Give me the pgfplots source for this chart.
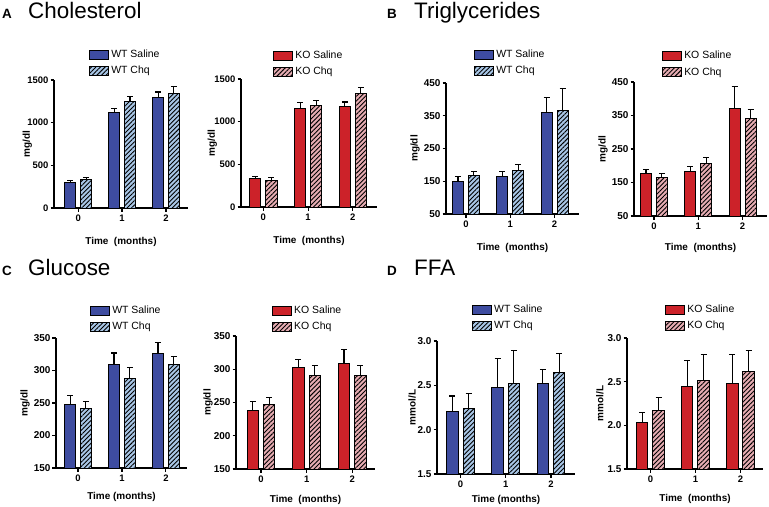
\documentclass[border=0pt]{standalone}
\usepackage{pgfplots}
\pgfplotsset{compat=1.18}
\usepackage{pgfplotstable}
\usepackage{fontspec}
\setmainfont{Liberation Sans}
\usetikzlibrary{patterns.meta}

\definecolor{wtS}{RGB}{62,76,160}
\definecolor{wtC}{RGB}{168,198,230}
\definecolor{koS}{RGB}{204,34,41}
\definecolor{koC}{RGB}{230,172,178}

\pgfplotstableread{
x s se c ce
0 300 20 335 25
1 1120 45 1250 55
2 1295 65 1345 75
}\cholWT
\pgfplotstableread{
x s se c ce
0 330 25 315 30
1 1150 70 1190 55
2 1175 55 1325 75
}\cholKO
\pgfplotstableread{
x s se c ce
0 150 15 167 13
1 165 15 183 17
2 360 47 367 67
}\trigWT
\pgfplotstableread{
x s se c ce
0 177 13 165 11
1 183 14 207 17
2 372 64 340 29
}\trigKO
\pgfplotstableread{
x s se c ce
0 248 13 242 11
1 310 17 288 16
2 326 17 309 13
}\gluWT
\pgfplotstableread{
x s se c ce
0 238 13 247 10
1 302 12 290 16
2 309 21 290 16
}\gluKO
\pgfplotstableread{
x s se c ce
0 2.20 0.18 2.24 0.165
1 2.48 0.32 2.52 0.37
2 2.52 0.16 2.65 0.21
}\ffaWT
\pgfplotstableread{
x s se c ce
0 2.03 0.12 2.17 0.15
1 2.44 0.30 2.51 0.30
2 2.48 0.33 2.62 0.24
}\ffaKO

\pgfplotsset{
 panel/.style={
  scale only axis,
  anchor=south west,
  axis x line*=bottom, axis y line*=left,
  axis line style={-,line width=1.3bp,black},
  tick align=outside,
  major tick length=3.5bp,
  tick style={line width=1.2bp,black},
  xtick={0,1,2},
  x tick label style={font=\fontsize{9.5}{10}\selectfont\bfseries},
  y tick label style={font=\fontsize{8.5}{10}\selectfont\bfseries, xshift=1.5bp},
  /pgf/number format/assume math mode=true,
  /pgf/number format/1000 sep={},
  ylabel style={font=\fontsize{10}{11}\selectfont\bfseries},
  xlabel style={font=\fontsize{10}{11}\selectfont\bfseries},
  legend cell align=left,
  legend style={draw=none, fill=none, inner sep=0pt, font=\fontsize{10.5}{12}\selectfont, row sep=3bp, anchor=north west},
  legend image code/.code={\draw[##1,draw=black,line width=1bp] (0bp,-4.5bp) rectangle (19bp,4.5bp);},
  clip=false,
 },
 ytf/.style={y tick label style={font=\fontsize{#1}{11}\selectfont\bfseries}},
 ylab/.style={ylabel style={at={(axis description cs:#1,0.5)}, anchor=center}},
 sal/.style={ybar, bar width=0.25, bar shift=0pt, fill=#1, draw=black, line width=1bp,
   error bars/.cd, y dir=plus, y explicit, error bar style={black,line width=1.1bp},
   error mark options={rotate=90, black, line width=1.1bp, mark size=3bp}},
 chq/.style={ybar, bar width=0.25, bar shift=0pt, fill=#1, draw=black, line width=1bp,
   postaction={pattern color=black, pattern={Lines[angle=45,distance=3.2bp,line width=0.9bp]}},
   error bars/.cd, y dir=plus, y explicit, error bar style={black,line width=1.1bp},
   error mark options={rotate=90, black, line width=1.1bp, mark size=3bp}},
}

\begin{document}
\begin{tikzpicture}
\useasboundingbox (0,0) rectangle (769bp,-507bp);

% titles
\node[anchor=base west, inner sep=0pt, font=\fontsize{13.5}{14}\selectfont\bfseries] at (2bp,-18.5bp) {A};
\node[anchor=base west, inner sep=0pt, font=\fontsize{22.5}{24}\selectfont] at (28bp,-18.5bp) {Cholesterol};
\node[anchor=base west, inner sep=0pt, font=\fontsize{13.5}{14}\selectfont\bfseries] at (387bp,-18.5bp) {B};
\node[anchor=base west, inner sep=0pt, font=\fontsize{22.5}{24}\selectfont] at (414bp,-18.5bp) {Triglycerides};
\node[anchor=base west, inner sep=0pt, font=\fontsize{13.5}{14}\selectfont\bfseries] at (2bp,-275bp) {C};
\node[anchor=base west, inner sep=0pt, font=\fontsize{22.5}{24}\selectfont] at (28bp,-275bp) {Glucose};
\node[anchor=base west, inner sep=0pt, font=\fontsize{13.5}{14}\selectfont\bfseries] at (387bp,-275bp) {D};
\node[anchor=base west, inner sep=0pt, font=\fontsize{22.5}{24}\selectfont] at (414bp,-275bp) {FFA};

% A left
\begin{axis}[panel, at={(54bp,-208bp)}, width=134bp, height=128bp, ytf=9.5,
  xmin=-0.55, xmax=2.5, ymin=0, ymax=1500, ytick={0,500,1000,1500},
  ylabel={mg/dl}, ylab=-0.2, xlabel={Time\ \ (months)}, xlabel shift=9bp,
  legend style={at={(0.262,1.25)}}]
\addplot[sal=wtS] table[x expr=\thisrow{x}-0.18,y=s,y error=se]{\cholWT};
\addplot[chq=wtC] table[x expr=\thisrow{x}+0.18,y=c,y error=ce]{\cholWT};
\legend{WT Saline,WT Chq}
\end{axis}
% A right
\begin{axis}[panel, at={(241bp,-207bp)}, width=136bp, height=128bp, ytf=9.5,
  xmin=-0.5, xmax=2.54, ymin=0, ymax=1500, ytick={0,500,1000,1500},
  ylabel={mg/dl}, ylab=-0.21, xlabel={Time\ \ (months)}, xlabel shift=9bp,
  legend style={at={(0.236,1.234)}}]
\addplot[sal=koS] table[x expr=\thisrow{x}-0.18,y=s,y error=se]{\cholKO};
\addplot[chq=koC] table[x expr=\thisrow{x}+0.18,y=c,y error=ce]{\cholKO};
\legend{KO Saline,KO Chq}
\end{axis}
% B left
\begin{axis}[panel, at={(446bp,-214bp)}, width=133bp, height=131bp, ytf=10,
  xmin=-0.45, xmax=2.55, ymin=50, ymax=450, ytick={50,150,250,350,450},
  ylabel={mg/dl}, ylab=-0.233, xlabel={Time\ \ (months)}, xlabel shift=9bp,
  legend style={at={(0.211,1.266)}}]
\addplot[sal=wtS] table[x expr=\thisrow{x}-0.18,y=s,y error=se]{\trigWT};
\addplot[chq=wtC] table[x expr=\thisrow{x}+0.18,y=c,y error=ce]{\trigWT};
\legend{WT Saline,WT Chq}
\end{axis}
% B right
\begin{axis}[panel, at={(634bp,-216bp)}, width=133bp, height=134bp, ytf=10,
  xmin=-0.45, xmax=2.55, ymin=50, ymax=450, ytick={50,150,250,350,450},
  ylabel={mg/dl}, ylab=-0.233, xlabel={Time\ \ (months)}, xlabel shift=7bp,
  legend style={at={(0.211,1.245)}}]
\addplot[sal=koS] table[x expr=\thisrow{x}-0.18,y=s,y error=se]{\trigKO};
\addplot[chq=koC] table[x expr=\thisrow{x}+0.18,y=c,y error=ce]{\trigKO};
\legend{KO Saline,KO Chq}
\end{axis}
% C left
\begin{axis}[panel, at={(56bp,-468bp)}, width=131bp, height=130bp, ytf=10,
  xmin=-0.5, xmax=2.48, ymin=150, ymax=350, ytick={150,200,250,300,350},
  ylabel={mg/dl}, ylab=-0.237, xlabel={Time (months)}, xlabel shift=4bp,
  legend style={at={(0.26,1.261)}}]
\addplot[sal=wtS] table[x expr=\thisrow{x}-0.18,y=s,y error=se]{\gluWT};
\addplot[chq=wtC] table[x expr=\thisrow{x}+0.18,y=c,y error=ce]{\gluWT};
\legend{WT Saline,WT Chq}
\end{axis}
% C right
\begin{axis}[panel, at={(236bp,-469bp)}, width=139bp, height=133bp, ytf=10,
  xmin=-0.55, xmax=2.5, ymin=150, ymax=350, ytick={150,200,250,300,350},
  ylabel={mg/dl}, ylab=-0.201, xlabel={Time\ \ (months)}, xlabel shift=6bp,
  legend style={at={(0.259,1.24)}}]
\addplot[sal=koS] table[x expr=\thisrow{x}-0.18,y=s,y error=se]{\gluKO};
\addplot[chq=koC] table[x expr=\thisrow{x}+0.18,y=c,y error=ce]{\gluKO};
\legend{KO Saline,KO Chq}
\end{axis}
% D left
\begin{axis}[panel, at={(437bp,-474bp)}, width=138bp, height=133bp, ytf=10,
  xmin=-0.52, xmax=2.53, ymin=1.5, ymax=3.0, ytick={1.5,2,2.5,3}, yticklabels={1.5,2.0,2.5,3.0},
  ylabel={mmol/L}, ylab=-0.181, xlabel={Time (months)}, xlabel shift=1bp,
  legend style={at={(0.254,1.285)}}]
\addplot[sal=wtS] table[x expr=\thisrow{x}-0.18,y=s,y error=se]{\ffaWT};
\addplot[chq=wtC] table[x expr=\thisrow{x}+0.18,y=c,y error=ce]{\ffaWT};
\legend{WT Saline,WT Chq}
\end{axis}
% D right
\begin{axis}[panel, at={(627bp,-469bp)}, width=136bp, height=131bp, ytf=10,
  xmin=-0.52, xmax=2.5, ymin=1.5, ymax=3.0, ytick={1.5,2,2.5,3}, yticklabels={1.5,2.0,2.5,3.0},
  ylabel={mmol/L}, ylab=-0.199, xlabel={Time\ \ (months)}, xlabel shift=5bp,
  legend style={at={(0.28,1.266)}}]
\addplot[sal=koS] table[x expr=\thisrow{x}-0.18,y=s,y error=se]{\ffaKO};
\addplot[chq=koC] table[x expr=\thisrow{x}+0.18,y=c,y error=ce]{\ffaKO};
\legend{KO Saline,KO Chq}
\end{axis}
\end{tikzpicture}
\end{document}
